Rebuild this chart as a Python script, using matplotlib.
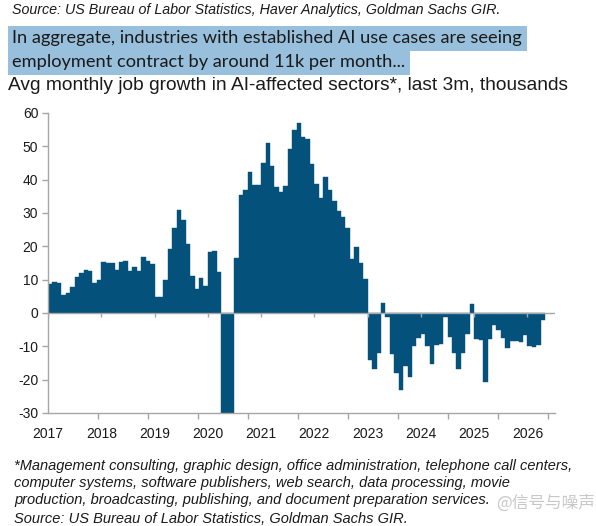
import matplotlib
matplotlib.use("Agg")
import matplotlib.pyplot as plt
from matplotlib.patches import Rectangle
import numpy as np

# ---------------- data ----------------
start_year = 2017
years = [2017, 2018, 2019, 2020, 2021, 2022, 2023, 2024, 2025, 2026]
values_2017 = [8.6, 9.4, 9.1, 5.3, 5.9, 7.8, 10.7, 11.9, 12.8, 12.6, 9.1, 9.9]
values_2018 = [15.2, 15.0, 15.1, 12.8, 15.3, 15.5, 12.5, 13.8, 12.6, 16.7, 15.6, 14.6]
values_2019 = [4.8, 4.8, 9.9, 19.2, 25.4, 31.0, 27.8, 20.8, 11.1, 7.1, 10.5, 8.1]
values_2020 = [18.3, 18.7, 12.3, -30.0, -30.0, -30.0, 16.4, 35.3, 37.0, 42.2, 38.4, 38.4]
values_2021 = [44.9, 51.1, 44.2, 37.7, 36.3, 38.0, 49.1, 54.9, 56.9, 52.7, 52.1, 44.6]
values_2022 = [38.8, 34.4, 40.9, 37.0, 33.6, 30.7, 28.8, 25.5, 16.3, 19.9, 15.1, 10.2]
values_2023 = [-14.1, -16.7, -11.9, 3.1, -1.1, -12.3, -18.0, -23.1, -16.0, -19.2, -10.0, -7.4]
values_2024 = [-6.4, -9.8, -15.2, -9.7, -9.3, -1.2, -7.2, -12.1, -16.9, -12.1, -6.2, 2.6]
values_2025 = [-7.7, -8.0, -20.7, -7.7, -3.7, -5.2, -7.4, -10.5, -8.5, -8.5, -8.8, -6.5]
values_2026 = [-9.8, -10.1, -9.5, -2.2]

values = (values_2017 + values_2018 + values_2019 + values_2020 + values_2021 +
          values_2022 + values_2023 + values_2024 + values_2025 + values_2026)
yticks = [60, 50, 40, 30, 20, 10, 0, -10, -20, -30]

top_source = "Source: US Bureau of Labor Statistics, Haver Analytics, Goldman Sachs GIR."
title_lines = ["In aggregate, industries with established AI use cases are seeing",
               "employment contract by around 11k per month..."]
subtitle = "Avg monthly job growth in AI-affected sectors*, last 3m, thousands"
footnote_lines = ["*Management consulting, graphic design, office administration, telephone call centers,",
                  "computer systems, software publishers, web search, data processing, movie",
                  "production, broadcasting, publishing, and document preparation services."]
bottom_source = "Source: US Bureau of Labor Statistics, Goldman Sachs GIR."
watermark = "@信号与噪声"

# ---------------- style ----------------
BAR = "#04517B"
GRAY = "#A6A6A6"
HIGHLIGHT = "#98BFDB"
TXT = "#1A1A1A"

W, H = 596, 526
fig = plt.figure(figsize=(W / 100, H / 100), dpi=100)
fig.patch.set_facecolor("white")
renderer = fig.canvas.get_renderer()

def px(x, y):
    return x / W, 1 - y / H

def fit_text(x, y, s, target_w, va="center", **kw):
    t = fig.text(*px(x, y), s, va=va, ha="left", fontsize=10, **kw)
    w = t.get_window_extent(renderer).width
    t.set_fontsize(10 * target_w / w)
    return t

# plot area
left, right, top, bottom = 48, 555, 113, 413
ax = fig.add_axes([left / W, 1 - bottom / H, (right - left) / W, (bottom - top) / H])

n = len(values)
xpos = np.arange(n) + 0.5
vals = np.array(values)
ax.bar(xpos, vals, width=1.0, color=BAR, edgecolor=BAR, linewidth=0.3, zorder=2)

month_px = (right - left) / 114.2
ax.set_xlim(0, 114.2)
ax.set_ylim(-30, 60)

ax.axhline(0, color=GRAY, lw=1.0, zorder=3)

for s in ["top", "right"]:
    ax.spines[s].set_visible(False)
for s in ["left", "bottom"]:
    ax.spines[s].set_color(GRAY)
    ax.spines[s].set_linewidth(1.0)

ax.set_yticks(yticks)
ax.set_yticklabels([str(v) for v in yticks], fontsize=10, color=TXT, family="Liberation Sans")
ax.tick_params(axis="y", length=4, color=GRAY, width=1, pad=3)

year_pos = [12 * (y - start_year) for y in years]
ax.set_xticks(year_pos)
ax.set_xticklabels([str(y) for y in years], fontsize=10, color=TXT, family="Liberation Sans")
ax.tick_params(axis="x", which="major", length=0, pad=10)
minor_pos = [k * 50 / month_px for k in range(11)]
ax.set_xticks(minor_pos, minor=True)
ax.tick_params(axis="x", which="minor", length=4, color=GRAY, width=1)

# year ticks on the zero line
ax.vlines(year_pos, -1.3, 0, color=GRAY, lw=1.0, zorder=3)

# ---------------- texts ----------------
fit_text(12, 10, top_source, 490, style="italic", family="Liberation Sans", color=TXT)

line_y = [38, 62]
for i, (s, yy) in enumerate(zip(title_lines, line_y)):
    target = 510 if i == 0 else 380
    t = fit_text(12, yy, s, target, family="Lato", color=TXT, zorder=5)
    bb = t.get_window_extent(renderer)
    rect = Rectangle(((8) / W, 1 - (yy + 12.5) / H), (bb.x1 + 5 - 8) / W, 24.5 / H,
                     transform=fig.transFigure, facecolor=HIGHLIGHT, edgecolor="none", zorder=1)
    fig.patches.append(rect)
# force the same font size for both title lines
fs = fig.texts[1].get_fontsize()
fig.texts[2].set_fontsize(fs)
bb2 = fig.texts[2].get_window_extent(renderer)
fig.patches[1].set_width((bb2.x1 + 5 - 8) / W)

fit_text(8, 86, subtitle, 564, family="Liberation Sans", color=TXT)

foot_y = [466, 483, 500]
fsz = None
for s, yy in zip(footnote_lines, foot_y):
    if fsz is None:
        t = fit_text(14, yy, s, 558, style="italic", family="Liberation Sans", color=TXT)
        fsz = t.get_fontsize()
    else:
        fig.text(*px(14, yy), s, va="center", ha="left", fontsize=fsz, style="italic",
                 family="Liberation Sans", color=TXT)
fig.text(*px(14, 519), bottom_source, va="center", ha="left", fontsize=fsz, style="italic",
         family="Liberation Sans", color=TXT)

fig.text(*px(496, 503), watermark, va="center", ha="left", fontsize=12,
         family=["Noto Sans CJK SC", "DejaVu Sans"], color="#C8C8C8")

fig.savefig("out.png", dpi=100, facecolor="white")
